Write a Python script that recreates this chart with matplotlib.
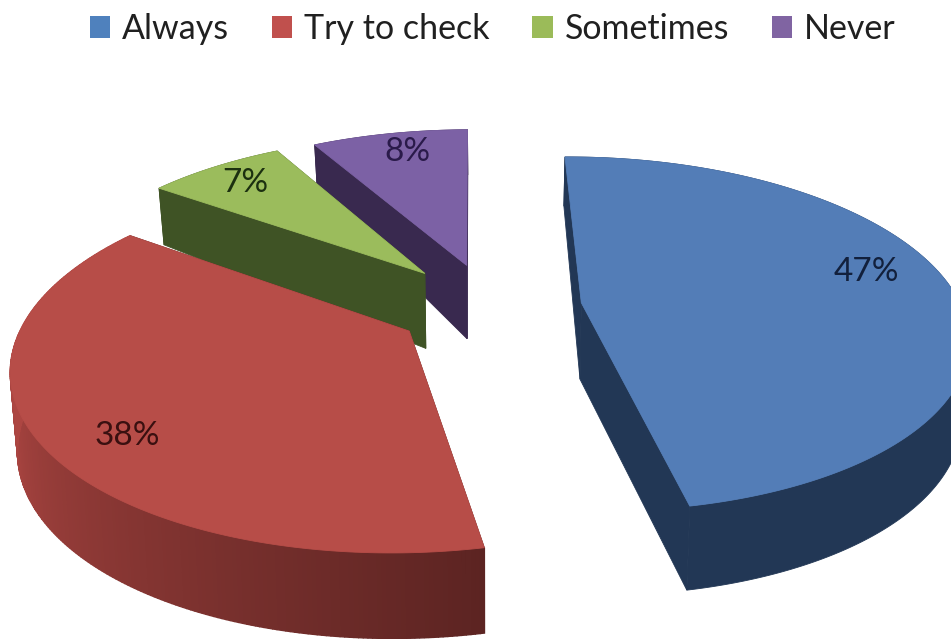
import numpy as np
import matplotlib
matplotlib.use('Agg')
import matplotlib.pyplot as plt
from matplotlib.patches import Patch, Polygon

plt.rcParams['font.family'] = ['Lato', 'DejaVu Sans']

# data
categories = ['Always', 'Try to check', 'Sometimes', 'Never']
shares = [47, 38, 7, 8]
value_labels = ['47%', '38%', '7%', '8%']

# style
explode = [0.24, 0.25, 0.27, 0.26]
top_colors = ['#537db7', '#b74d48', '#9bbc5c', '#7c61a5']
side_colors = ['#223755', None, '#3f5325', '#39294f']
legend_colors = ['#4f81bd', '#c0504d', '#9bbb59', '#8064a2']
text_colors = ['#12203c', '#3a1010', '#1c3010', '#2a1a4a']
label_xy = [(866, 272), (127, 436), (245, 183), (407, 152)]

# projection of the pie plane to pixels
cx, cy = 491, 307
radius_x, radius_y = 380, 173
persp = 0.177


def project(gx, gy):
    scale = 1 / (1 + persp * gy)
    return cx + radius_x * gx * scale, cy - radius_y * gy * scale


def depth(gy):
    return np.interp(gy, [-1.2, 0.2, 0.8, 1.15], [86, 75, 56, 45])


def top_and_bottom(gx, gy):
    x, y = project(np.asarray(gx, float), np.asarray(gy, float))
    # the lower rim pulls a little towards the middle
    bx = cx + (x - cx) * 0.985
    return np.column_stack([x, y]), np.column_stack([bx, y + depth(np.asarray(gy, float))])


def lerp_color(c1, c2, t):
    a = np.array(matplotlib.colors.to_rgb(c1))
    b = np.array(matplotlib.colors.to_rgb(c2))
    return tuple(a + (b - a) * t)


fig = plt.figure(figsize=(9.51, 6.39), dpi=100)
ax = fig.add_axes([0, 0, 1, 1])
ax.set_xlim(0, 951)
ax.set_ylim(639, 0)
ax.axis('off')

# clockwise from the top, angles from the values
edges = np.cumsum([0] + shares) / sum(shares) * 2 * np.pi - np.radians(0.5)

# back to front
z = 1
for i in [0, 3, 2, 1]:
    a0, a1 = edges[i], edges[i + 1]
    mid = (a0 + a1) / 2
    ax0 = explode[i] * np.sin(mid)
    ay0 = explode[i] * np.cos(mid)
    t = np.linspace(a0, a1, 240)
    arc_x = ax0 + np.sin(t)
    arc_y = ay0 + np.cos(t)

    arc_top, arc_bot = top_and_bottom(arc_x, arc_y)
    apex_top, apex_bot = top_and_bottom([ax0], [ay0])

    # flat faces
    dark = side_colors[i] or '#5c2422'
    for k in [0, -1]:
        quad = [apex_top[0], arc_top[k], arc_bot[k], apex_bot[0]]
        ax.add_patch(Polygon(quad, closed=True, fc=dark, ec=dark, lw=0.6, zorder=z))
        z += 1

    # outer rim, red one is shaded along the arc
    if side_colors[i] is None:
        for j in range(len(t) - 1):
            frac = (t[j] - a0) / (a1 - a0)
            col = lerp_color('#5c2422', '#ad4642', min(frac * 1.5, 1))
            quad = [arc_top[j], arc_top[j + 1], arc_bot[j + 1], arc_bot[j]]
            ax.add_patch(Polygon(quad, closed=True, fc=col, ec=col, lw=1.0, zorder=z))
            z += 1
    else:
        rim = np.vstack([arc_top, arc_bot[::-1]])
        ax.add_patch(Polygon(rim, closed=True, fc=dark, ec=dark, lw=0.6, zorder=z))
        z += 1

    face = np.vstack([apex_top, arc_top])
    ax.add_patch(Polygon(face, closed=True, fc=top_colors[i], ec=top_colors[i], lw=0.6, zorder=z))
    z += 1

    ax.text(label_xy[i][0], label_xy[i][1], value_labels[i], fontsize=24, color=text_colors[i],
            ha='center', va='center', zorder=5000)

handles = [Patch(fc=c, ec='none') for c in legend_colors]
ax.legend(handles, categories, loc='upper center', bbox_to_anchor=(0.518, 1.028), ncol=4,
          frameon=False, fontsize=24.5, handlelength=0.6, handleheight=0.6,
          handletextpad=0.35, columnspacing=1.25, labelcolor='#202020')

fig.savefig('out.png', dpi=100)
